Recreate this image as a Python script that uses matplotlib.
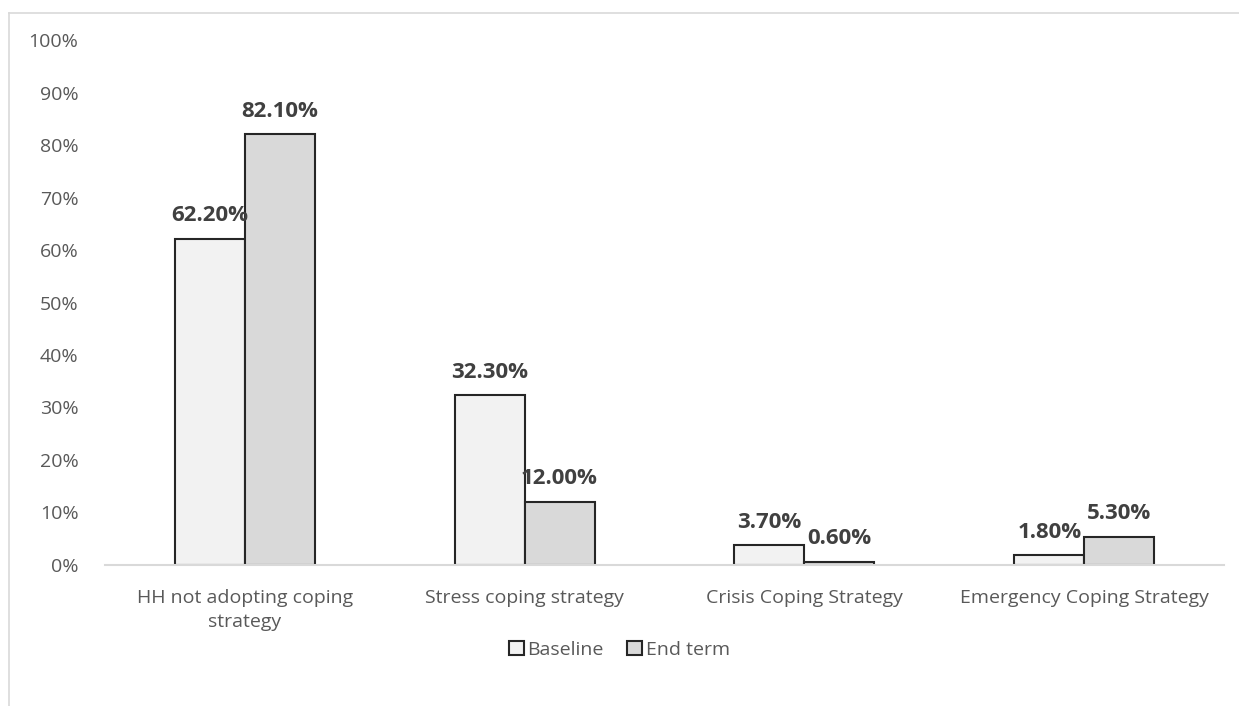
import matplotlib.pyplot as plt
import numpy as np
from matplotlib.lines import Line2D
from matplotlib.ticker import PercentFormatter

categories = [
    "HH not adopting coping\nstrategy",
    "Stress coping strategy",
    "Crisis Coping Strategy",
    "Emergency Coping Strategy",
]
baseline = [62.2, 32.3, 3.7, 1.8]
end_term = [82.1, 12.0, 0.6, 5.3]
series_names = ["Baseline", "End term"]

text_color = "#595959"
plt.rcParams["font.family"] = ["Open Sans", "DejaVu Sans"]

fig = plt.figure(figsize=(12.39, 7.06), dpi=100)
ax = fig.add_axes([0.0847, 0.2, 0.9033, 0.743])

x = np.arange(len(categories))
width = 0.25
edge = "#262626"
b1 = ax.bar(x - width / 2, baseline, width, color="#F2F2F2", edgecolor=edge,
            linewidth=1.5, label=series_names[0])
b2 = ax.bar(x + width / 2, end_term, width, color="#D9D9D9", edgecolor=edge,
            linewidth=1.5, label=series_names[1])

for bars in (b1, b2):
    ax.bar_label(bars, labels=[f"{v:.2f}%" for v in bars.datavalues], padding=9,
                 fontsize=16, fontweight="bold", color="#404040")

ax.set_xlim(-0.5, len(categories) - 0.5)
ax.set_ylim(0, 100)
ax.set_yticks(np.arange(0, 101, 10))
ax.yaxis.set_major_formatter(PercentFormatter(decimals=0))
ax.set_xticks(x)
ax.set_xticklabels(categories, linespacing=1.45)
ax.tick_params(axis="both", length=0, labelsize=14, colors=text_color)
ax.tick_params(axis="y", pad=19)
ax.tick_params(axis="x", pad=17.5)

for side in ("top", "right", "left"):
    ax.spines[side].set_visible(False)
ax.spines["bottom"].set_color("#D9D9D9")
ax.spines["bottom"].set_linewidth(1.5)

fig.legend(loc="center", bbox_to_anchor=(0.5, 0.08), ncol=2, frameon=False,
           fontsize=14, labelcolor=text_color, handlelength=0.75, handleheight=0.75,
           handletextpad=0.2, columnspacing=1.2)

# chart frame (only top and left visible in the picture)
fig.add_artist(Line2D([9 / 1239, 1], [1 - 13 / 706, 1 - 13 / 706],
                      transform=fig.transFigure, color="#D9D9D9", lw=1.2))
fig.add_artist(Line2D([9 / 1239, 9 / 1239], [0, 1 - 13 / 706],
                      transform=fig.transFigure, color="#D9D9D9", lw=1.2))

fig.savefig("out.png", dpi=100)
